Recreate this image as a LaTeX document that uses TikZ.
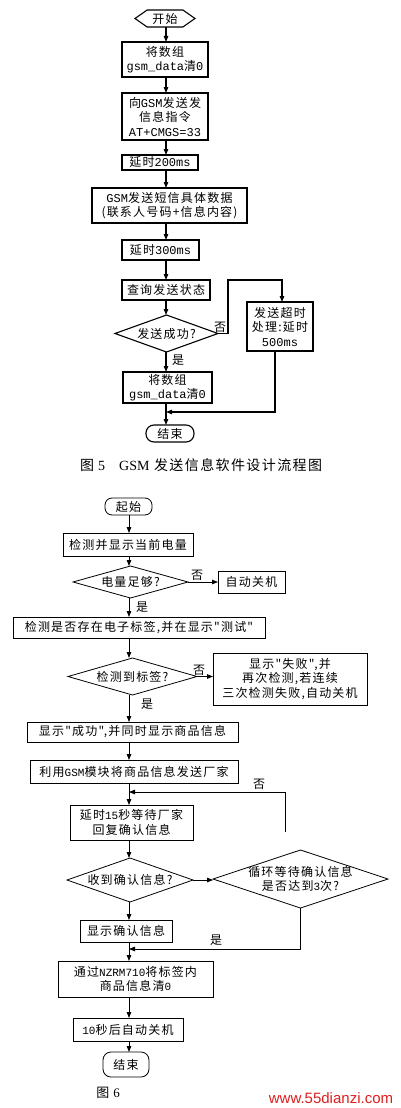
\documentclass[tikz,border=0pt]{standalone}
\usepackage{fontspec}
\setmainfont[LetterSpace=10,Ligatures=TeXOff]{Noto Sans CJK SC}
\newfontfamily\mo{Liberation Mono}
\newfontfamily\se{Liberation Serif}
\newfontfamily\ar{Liberation Sans}
\usetikzlibrary{arrows.meta,shapes.symbols,calc}
\newcommand\mtx[1]{{\mo #1}}
\newcommand\mtxb[1]{{\mo\fontsize{11}{14.5}\selectfont #1}}
\definecolor{webred}{RGB}{220,30,30}
\begin{document}
\begin{tikzpicture}[x=1pt,y=-1pt,
  arr/.style={-{Triangle[length=6pt,width=4.5pt]}},
  lineA/.style={line width=1.1pt},
  lineB/.style={line width=0.8pt},
  txt/.style={font=\fontsize{12}{14.5}\selectfont},
  boxA/.style={draw,lineA,txt,inner sep=0pt,outer sep=0pt,align=center},
  boxB/.style={draw,lineB,txt,inner sep=0pt,outer sep=0pt,align=center},
  dia/.style={txt,inner sep=0pt,outer sep=0pt,align=center},
  lbl/.style={txt,inner sep=0pt}]
\useasboundingbox (0,0) rectangle (400,1108);

% ---------- Figure 5 ----------
\coordinate (colA) at (166,0);
\node[signal, signal to=west and east, signal pointer angle=70, draw, lineA, txt,
      minimum width=60pt, minimum height=17pt, inner sep=0pt, outer sep=0pt] (s5) at (165,18.5) {开始};
\node[boxA, minimum width=86pt, minimum height=35pt] (b1) at (165,59.5) {将数组\\\mtx{gsm\_data}清\mtx{0}};
\node[boxA, minimum width=86pt, minimum height=47pt] (b2) at (165,116.5) {向\mtx{GSM}发送发\\信息指令\\\mtx{AT+CMGS=33}};
\node[boxA, minimum width=76pt, minimum height=15pt] (b3) at (160,162.5) {延时\mtx{200ms}};
\node[boxA, minimum width=155pt, minimum height=35pt] (b4) at (169.5,205.5) {\mtx{GSM}发送短信具体数据\\(联系人号码+信息内容)};
\node[boxA, minimum width=77pt, minimum height=20pt] (b5) at (160.5,250) {延时\mtx{300ms}};
\node[boxA, minimum width=88pt, minimum height=20pt] (b6) at (166,290) {查询发送状态};
\node[dia, minimum width=103pt, minimum height=37pt] (d5) at (166.5,333.5) {发送成功?};
\draw[lineA] (d5.north) -- (d5.east) -- (d5.south) -- (d5.west) -- cycle;
\node[boxA, minimum width=66pt, minimum height=49pt] (t5) at (280,326.5) {发送超时\\处理:延时\\\mtx{500ms}};
\node[boxA, minimum width=89pt, minimum height=31pt] (b7) at (167.5,387.5) {将数组\\\mtx{gsm\_data}清\mtx{0}};
\node[draw, lineA, txt, rounded corners=8pt, minimum width=48pt, minimum height=17pt,
      inner sep=0pt, outer sep=0pt] (e5) at (170,433.5) {结束};

\foreach \a/\b in {s5/b1,b1/b2,b2/b3,b3/b4,b4/b5,b5/b6,b6/d5,d5/b7,b7/e5}
  \draw[lineA,arr] (\a.south -| colA) -- (\b.north -| colA);

\coordinate (k1) at (228,280);
\draw[lineA,arr] (d5.east) -- (d5.east -| k1) -- (k1) -| ([xshift=2pt]t5.north);
\coordinate (j5) at (166,412);
\draw[lineA,arr] ([xshift=-5pt]t5.south) |- (j5);
\node[lbl] at (220,327) {否};
\node[lbl] at (178,360) {是};

\node[font=\fontsize{14}{16}\selectfont, inner sep=0pt, anchor=west] (cap5) at (80,465)
  {图\hspace{4pt}{\se 5}\hspace{14pt}{\se GSM} 发送信息软件设计流程图};

% ---------- Figure 6 ----------
\coordinate (colB) at (129,0);
\node[boxB, rounded corners=7pt, minimum width=47pt, minimum height=17pt] (st6) at (128.5,506.5) {起始};
\node[boxB, minimum width=130pt, minimum height=23pt] (c1) at (128,544.5) {检测并显示当前电量};
\node[dia, minimum width=115pt, minimum height=32pt] (d1) at (130.5,582) {电量足够?};
\draw[lineB] (d1.north) -- (d1.east) -- (d1.south) -- (d1.west) -- cycle;
\node[boxB, minimum width=67pt, minimum height=22pt] (off1) at (251.5,582) {自动关机};
\node[boxB, minimum width=252pt, minimum height=21pt] (c2) at (139,627.5) {检测是否存在电子标签,并在显示"测试"};
\node[dia, minimum width=129pt, minimum height=37pt] (d2) at (132.5,676.5) {检测到标签?};
\draw[lineB] (d2.north) -- (d2.east) -- (d2.south) -- (d2.west) -- cycle;
\node[boxB, minimum width=154pt, minimum height=52pt] (fail) at (290,679) {显示"失败",并\\再次检测,若连续\\三次检测失败,自动关机};
\node[boxB, minimum width=211pt, minimum height=20pt] (c3) at (132.5,732) {显示"成功",并同时显示商品信息};
\node[boxB, minimum width=208pt, minimum height=23pt] (c4) at (134,771.5) {利用\mtxb{GSM}模块将商品信息发送厂家};
\node[boxB, minimum width=123pt, minimum height=35pt] (c5) at (131.5,822.5) {延时\mtxb{15}秒等待厂家\\回复确认信息};
\node[dia, minimum width=126pt, minimum height=44pt] (d3) at (130,880) {收到确认信息?};
\draw[lineB] (d3.north) -- (d3.east) -- (d3.south) -- (d3.west) -- cycle;
\node[dia, minimum width=175pt, minimum height=58pt] (d4) at (300.5,879) {循环等待确认信息\\是否达到\mtxb{3}次?};
\draw[lineB] (d4.north) -- (d4.east) -- (d4.south) -- (d4.west) -- cycle;
\node[boxB, minimum width=92pt, minimum height=22pt] (c6) at (126,931) {显示确认信息};
\node[boxB, minimum width=155pt, minimum height=36pt] (c7) at (135.5,979) {通过\mtxb{NZRM710}将标签内\\商品信息清\mtxb{0}};
\node[boxB, minimum width=110pt, minimum height=23pt] (c8) at (128,1029.5) {\mtxb{10}秒后自动关机};
\node[boxB, rounded corners=8pt, minimum width=46pt, minimum height=25pt] (e6) at (126,1064.5) {结束};

\foreach \a/\b in {st6/c1,c1/d1,d1/c2,c2/d2,d2/c3,c3/c4,c4/c5,c5/d3,d3/c6,c6/c7,c7/c8,c8/e6}
  \draw[lineB,arr] (\a.south -| colB) -- (\b.north -| colB);

\draw[lineB,arr] (d1.east) -- (off1.west);
\draw[lineB,arr] (d2.east) -- (d2.east -| fail.west);
\draw[lineB,arr] (d3.east) -- (d3.east -| d4.west);
\coordinate (lp) at (285,832);
\coordinate (lj) at (129,792);
\draw[lineB,arr] (lp) |- (lj);
\coordinate (yj) at (129,949);
\draw[lineB,arr] (d4.south) |- (yj);

\node[lbl] at (197,575) {否};
\node[lbl] at (142,607) {是};
\node[lbl] at (199,670) {否};
\node[lbl] at (147,704) {是};
\node[lbl] at (259,784) {否};
\node[lbl] at (216,940) {是};

\node[font=\fontsize{13}{15}\selectfont, inner sep=0pt] (cap6) at (108,1093) {图\hspace{4pt}{\se 6}};
\node[font=\ar\fontsize{15}{17}\selectfont, text=webred, inner sep=0pt] (web) at (331,1098) {www.55dianzi.com};
\end{tikzpicture}
\end{document}
